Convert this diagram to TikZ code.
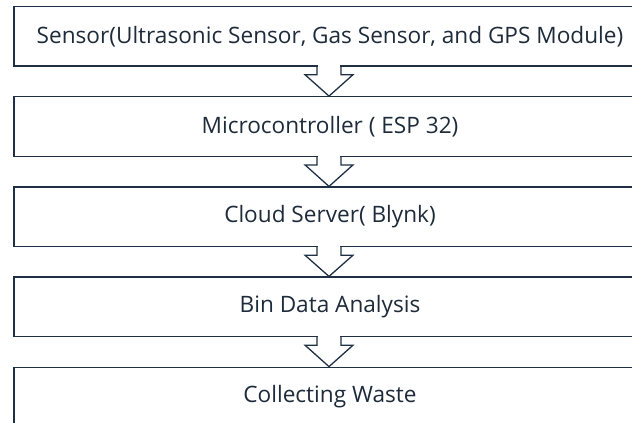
\documentclass[tikz,border=0pt]{standalone}
\usepackage{fontspec}
\setmainfont{Open Sans}
\usetikzlibrary{calc}
\definecolor{navy}{HTML}{1F3045}
\definecolor{txt}{HTML}{1E2B3A}
\tikzset{
  stagebox/.style={draw=navy, line width=1.3pt, fill=white, minimum width=632pt, minimum height=59.5pt, inner sep=0pt, text=txt, font=\fontsize{22.6pt}{26pt}\selectfont},
  blockarrow/.style={draw=navy, line width=1.3pt, line join=miter}
}
\begin{document}
\begin{tikzpicture}[x=1pt,y=1pt]
\useasboundingbox (0,0) rectangle (632,-423);
\clip (0,0) rectangle (632,-423);
\fill[white] (0,0) rectangle (632,-423);
\node[stagebox] (b1) at (330,-36.3) {Sensor(Ultrasonic Sensor, Gas Sensor, and GPS Module)};
\node[stagebox] (b2) at (330,-126.5) {Microcontroller ( ESP 32)};
\node[stagebox] (b3) at (330,-216.8) {Cloud Server( Blynk)};
\node[stagebox] (b4) at (330,-306.8) {Bin Data Analysis};
\node[stagebox] (b5) at (330,-397) {Collecting Waste};
\foreach \a/\b in {b1/b2,b2/b3,b3/b4,b4/b5}{
  \fill[white] ($(\a.south)+(-1-11.3,1.5)$) rectangle ($(\a.south)+(-1+11.3,-1.5)$);
  \draw[blockarrow] ($(\a.south)+(-1-12,0.7)$) -- ($(\a.south)+(-1-12,-8)$) -- ($(\a.south)+(-1-24,-8)$)
     -- ($(\b.north)+(-1,0)$) -- ($(\a.south)+(-1+24,-8)$) -- ($(\a.south)+(-1+12,-8)$) -- ($(\a.south)+(-1+12,0.7)$);
}
\end{tikzpicture}
\end{document}
